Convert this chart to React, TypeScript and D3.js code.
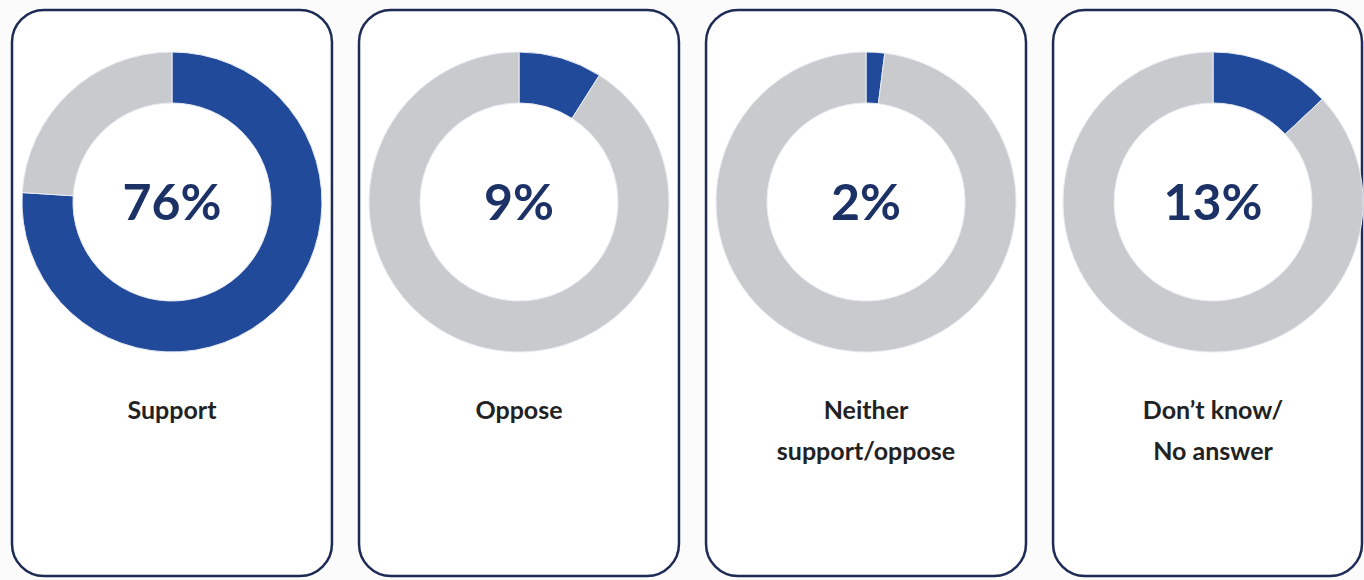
import { useEffect, useRef } from 'react';
import * as d3 from 'd3';

// categories and their shares (%)
const categories = ['Support', 'Oppose', 'Neither support/oppose', "Don't know/No answer"];
const labelLines = [['Support'], ['Oppose'], ['Neither', 'support/oppose'], ['Don\u2019t know/', 'No answer']];
const values = [76, 9, 2, 13];

const BLUE = '#214a9b';
const GRAY = '#c9cacd';
const BORDER = '#1d2b55';

export default function App() {
  const svgRef = useRef<SVGSVGElement>(null);

  useEffect(() => {
    if (!svgRef.current) return;
    const W = 1364;
    const H = 580;

    const svg = d3.select(svgRef.current);
    svg.selectAll('*').remove();
    svg.attr('width', W).attr('height', H);

    svg.append('rect').attr('width', W).attr('height', H).attr('fill', '#fbfbfc');

    // panel layout (last panel is cut off by the picture's right edge)
    const panelX = d3
      .scaleBand<number>()
      .domain(d3.range(categories.length))
      .range([12, 1373])
      .paddingInner(0.078)
      .paddingOuter(0);

    const pie = d3
      .pie<number>()
      .sort(null)
      .value((d) => d);

    const outerR = 150;
    const innerR = 99;
    const arc = d3.arc<d3.PieArcDatum<number>>().innerRadius(innerR).outerRadius(outerR);

    categories.forEach((cat, i) => {
      const x0 = panelX(i) as number;
      const bw = panelX.bandwidth();
      const w = Math.min(bw, 1362 - x0);
      const g = svg.append('g').attr('class', 'panel').attr('data-cat', cat);

      g.append('rect')
        .attr('x', x0)
        .attr('y', 10)
        .attr('width', w)
        .attr('height', 566)
        .attr('rx', 32)
        .attr('ry', 32)
        .attr('fill', '#ffffff')
        .attr('stroke', BORDER)
        .attr('stroke-width', 2.5);

      const cx = x0 + bw / 2;
      const cy = 202;
      const donut = g.append('g').attr('transform', `translate(${cx},${cy})`);

      donut
        .selectAll('path')
        .data(pie([values[i], 100 - values[i]]))
        .enter()
        .append('path')
        .attr('d', arc)
        .attr('fill', (d, j) => (j === 0 ? BLUE : GRAY))
        .attr('stroke', '#e8ecf4')
        .attr('stroke-width', 1);

      donut
        .append('text')
        .attr('text-anchor', 'middle')
        .attr('y', 18)
        .attr('font-family', 'Lato, "Open Sans", sans-serif')
        .attr('font-weight', 700)
        .attr('font-size', 50)
        .attr('fill', '#1c3266')
        .text(`${values[i]}%`);

      const lines = labelLines[i];
      lines.forEach((ln, k) => {
        g.append('text')
          .attr('x', cx)
          .attr('y', 419 + k * 41)
          .attr('text-anchor', 'middle')
          .attr('font-family', 'Lato, "Open Sans", sans-serif')
          .attr('font-weight', 700)
          .attr('font-size', 25)
          .attr('fill', '#222')
          .text(ln);
      });
    });
  }, []);

  return (
    <div style={{ position: 'absolute', left: 0, top: 0 }}>
      <svg ref={svgRef}></svg>
    </div>
  );
}
